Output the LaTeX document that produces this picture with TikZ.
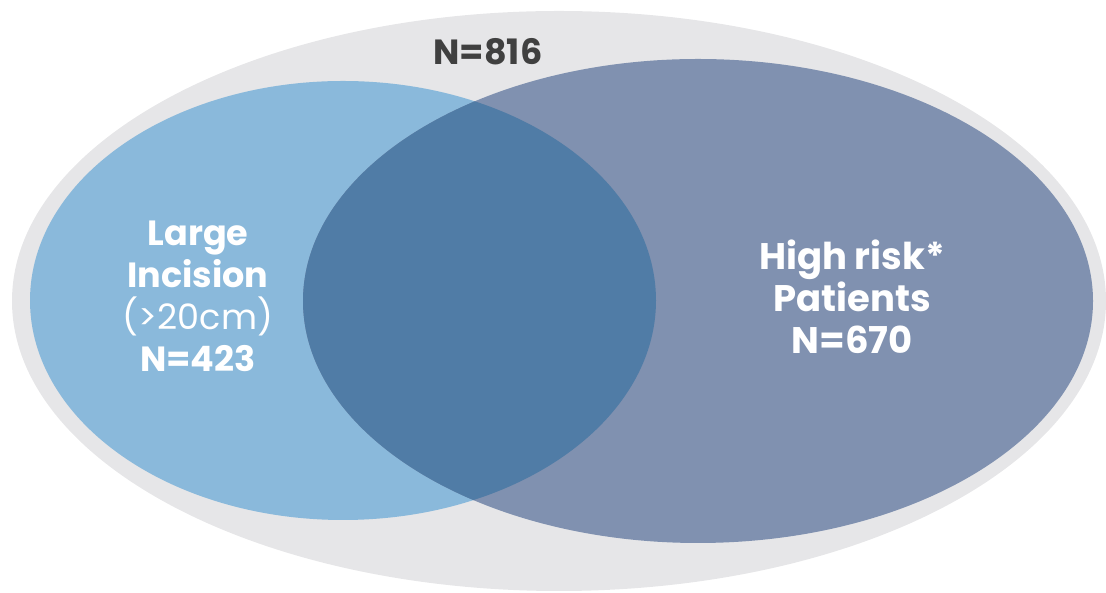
\documentclass[tikz,border=0pt]{standalone}
\usepackage{fontspec}
\setmainfont{Poppins}
\usepackage{xcolor}
\usepackage{tikz}
\usetikzlibrary{positioning}
\definecolor{outergray}{RGB}{230, 230, 232}
\definecolor{incisionblue}{RGB}{138, 185, 219}
\definecolor{riskslate}{RGB}{128, 145, 176}
\definecolor{overlapblue}{RGB}{80, 124, 166}
\definecolor{totalgray}{RGB}{64, 64, 64}

\begin{document}
\begin{tikzpicture}[x=1pt, y=1pt,
    setlabel/.style={text=white, align=center, font=\fontsize{35}{42}\selectfont\bfseries}]
    \useasboundingbox (0,0) rectangle (1106,593);
    % total cohort
    \fill[outergray] (559,292) ellipse [x radius=547, y radius=290];
    % the two sets and their overlap
    \fill[incisionblue] (343,292.5) ellipse [x radius=313, y radius=219.5];
    \fill[riskslate] (698,292) ellipse [x radius=395, y radius=242];
    \begin{scope}
        \clip (343,292.5) ellipse [x radius=313, y radius=219.5];
        \fill[overlapblue] (698,292) ellipse [x radius=395, y radius=242];
    \end{scope}
    % labels
    \node[font=\fontsize{35}{40}\selectfont\bfseries, text=totalgray] (total) at (488,541) {N=816};
    \node[setlabel] (incision) at (198,297) {Large\\Incision\\{\mdseries (>20cm)}\\N=423};
    \node[setlabel, font=\fontsize{37}{42}\selectfont\bfseries] (risk) at (852,296) {High risk*\\Patients\\N=670};
\end{tikzpicture}
\end{document}
